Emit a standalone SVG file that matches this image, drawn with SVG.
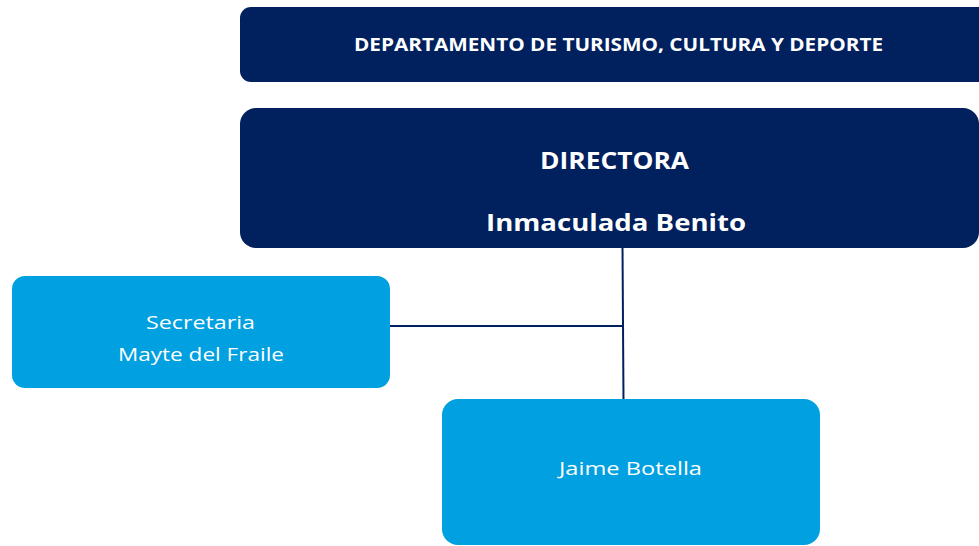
<svg xmlns="http://www.w3.org/2000/svg" width="979" height="546" viewBox="0 0 979 546">
<style>
.dark{fill:#00205E}
.light{fill:#00A0E1}
.t{font-family:"Open Sans","Liberation Sans",sans-serif;fill:#fff;text-anchor:middle}
.b{font-weight:700}
.conn{stroke:#00205E;stroke-width:2;fill:none}
</style>
<rect width="979" height="546" fill="#fff"/>
<g id="connectors">
<line class="conn" x1="622.5" y1="246" x2="623.5" y2="400"/>
<line class="conn" x1="389" y1="326" x2="623" y2="326"/>
</g>
<g id="departamento">
<rect class="dark" x="240" y="7" width="750" height="75" rx="11"/>
<text class="t b" x="618.5" y="51" font-size="17" textLength="529" lengthAdjust="spacingAndGlyphs">DEPARTAMENTO DE TURISMO, CULTURA Y DEPORTE</text>
</g>
<g id="directora">
<rect class="dark" x="240" y="108" width="739" height="140" rx="16"/>
<text class="t b" x="614.5" y="169" font-size="24" textLength="149" lengthAdjust="spacingAndGlyphs">DIRECTORA</text>
<text class="t b" x="616" y="231" font-size="24" textLength="260" lengthAdjust="spacingAndGlyphs">Inmaculada Benito</text>
</g>
<g id="secretaria">
<rect class="light" x="12" y="276" width="378" height="112" rx="13"/>
<text class="t" x="200.5" y="329" font-size="18" textLength="109" lengthAdjust="spacingAndGlyphs">Secretaria</text>
<text class="t" x="201" y="361" font-size="18" textLength="166" lengthAdjust="spacingAndGlyphs">Mayte del Fraile</text>
</g>
<g id="jaime">
<rect class="light" x="442" y="399" width="378" height="146" rx="16"/>
<text class="t" x="630.5" y="475" font-size="18" textLength="143" lengthAdjust="spacingAndGlyphs">Jaime Botella</text>
</g>
</svg>
